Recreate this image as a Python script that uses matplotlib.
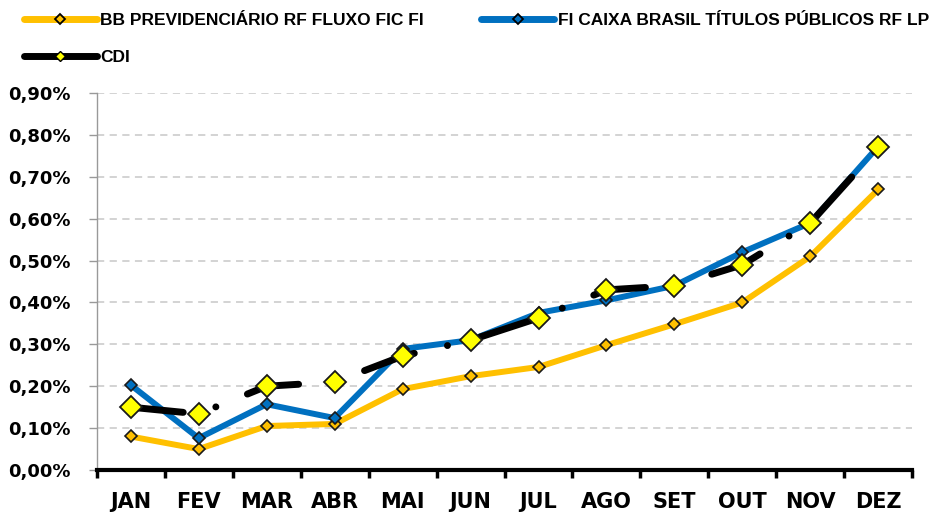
import matplotlib
matplotlib.use("Agg")
import matplotlib.pyplot as plt
from matplotlib.lines import Line2D

meses = ["JAN", "FEV", "MAR", "ABR", "MAI", "JUN", "JUL", "AGO", "SET", "OUT", "NOV", "DEZ"]
bb_prev = [0.08, 0.05, 0.105, 0.11, 0.193, 0.224, 0.246, 0.298, 0.348, 0.40, 0.51, 0.67]
caixa_tp = [0.203, 0.076, 0.157, 0.124, 0.289, 0.31, 0.375, 0.405, 0.44, 0.52, 0.59, 0.773]
cdi = [0.15, 0.134, 0.20, 0.21, 0.272, 0.31, 0.363, 0.43, 0.44, 0.49, 0.59, 0.77]
y_ticks = [0.0, 0.1, 0.2, 0.3, 0.4, 0.5, 0.6, 0.7, 0.8, 0.9]

plt.rcParams['font.family'] = ['DejaVu Sans']
plt.rcParams['font.weight'] = 'bold'

fig = plt.figure(figsize=(9.3, 5.14), dpi=100)
ax = fig.add_axes([0.104, 0.0856, 0.877, 0.7334])

x = range(len(meses))
orange = '#FFC000'
blue = '#0070C0'

ax.plot(x, bb_prev, color=orange, lw=4.3, marker='D', ms=6.5,
        mfc=orange, mec='#1a1a1a', mew=1.2, zorder=3)
ax.plot(x, caixa_tp, color=blue, lw=4.3, marker='D', ms=6.5,
        mfc=blue, mec='#1a1a1a', mew=1.2, zorder=4)
# CDI: traço-ponto longo, preto e grosso
ax.plot(x, cdi, color='black', lw=5, ls=(0, (7.6, 4.9, 0.01, 4.9)),
        dash_capstyle='round', solid_capstyle='round', zorder=5)
ax.plot(x, cdi, ls='none', marker='D', ms=11, mfc='#FFFF00',
        mec='#1a1a1a', mew=1.3, zorder=6)

ax.set_xlim(-0.5, len(meses) - 0.5)
ax.set_ylim(0, 0.9)
ax.set_yticks(y_ticks)
ax.set_yticklabels([("%.2f%%" % v).replace('.', ',') for v in y_ticks], fontsize=13)
ax.set_xticks(list(x))
ax.set_xticklabels(meses, fontsize=15)
ax.set_xticks([i - 0.5 for i in range(len(meses) + 1)], minor=True)
ax.tick_params(axis='x', which='major', length=0, pad=16)
ax.tick_params(axis='x', which='minor', length=6, width=2.5, color='black', direction='out')
ax.tick_params(axis='y', length=6, width=1, color='#999999', pad=13)

ax.grid(axis='y', color='#d0d0d0', ls=(0, (4, 3)), lw=1.3)
ax.set_axisbelow(True)
for s in ['top', 'right']:
    ax.spines[s].set_visible(False)
ax.spines['left'].set_color('#999999')
ax.spines['left'].set_linewidth(1)
ax.spines['bottom'].set_color('black')
ax.spines['bottom'].set_linewidth(3)

h_bb = Line2D([], [], color=orange, lw=5, marker='D', ms=5.5, mfc=orange, mec='black', mew=1.3, solid_capstyle='round')
h_cx = Line2D([], [], color=blue, lw=5, marker='D', ms=5.5, mfc=blue, mec='black', mew=1.3, solid_capstyle='round')
h_cdi = Line2D([], [], color='black', lw=5, marker='D', ms=5.5, mfc='#FFFF00', mec='black', mew=1.0, solid_capstyle='round')
fig.legend([h_bb, h_cdi, h_cx],
           ["BB PREVIDENCIÁRIO RF FLUXO FIC FI", "CDI", "FI CAIXA BRASIL TÍTULOS PÚBLICOS RF LP"],
           ncol=2, loc='upper left', bbox_to_anchor=(24 / 930, 1 - 13 / 514), frameon=False,
           prop={'family': 'Liberation Sans', 'weight': 'bold', 'size': 12.5},
           handlelength=4.2, handletextpad=0.2, columnspacing=3.3,
           labelspacing=1.25, borderaxespad=0, borderpad=0)

fig.savefig("out.png", dpi=100)
